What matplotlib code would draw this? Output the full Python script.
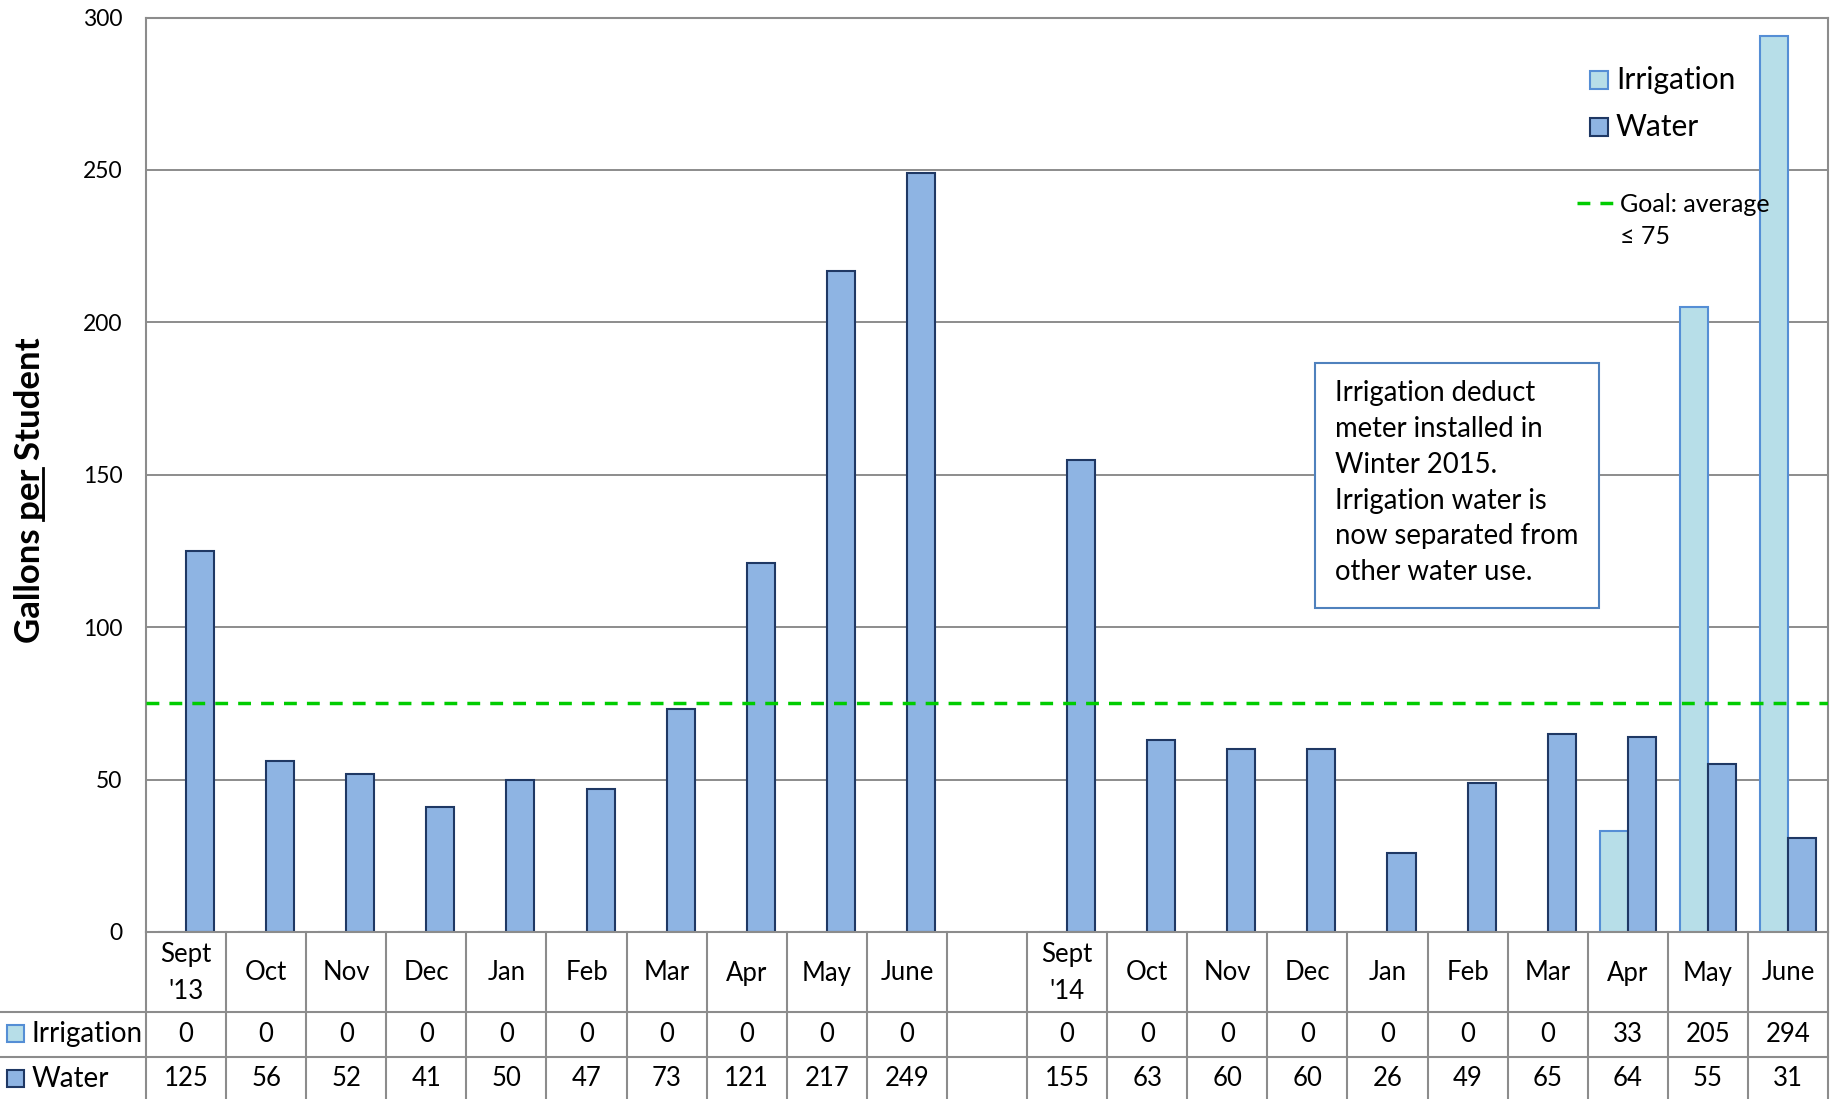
import matplotlib
matplotlib.use("Agg")
import matplotlib.pyplot as plt
import numpy as np
from matplotlib.patches import Rectangle
from matplotlib.lines import Line2D
from matplotlib.transforms import blended_transform_factory

plt.rcParams['font.family'] = ['Lato', 'DejaVu Sans']

# months, the empty one is the gap between the two school years
months = ["Sept\n'13", "Oct", "Nov", "Dec", "Jan", "Feb", "Mar", "Apr", "May", "June", "",
          "Sept\n'14", "Oct", "Nov", "Dec", "Jan", "Feb", "Mar", "Apr", "May", "June"]
irrigation = [0, 0, 0, 0, 0, 0, 0, 0, 0, 0, np.nan,
              0, 0, 0, 0, 0, 0, 0, 33, 205, 294]
water = [125, 56, 52, 41, 50, 47, 73, 121, 217, 249, np.nan,
         155, 63, 60, 60, 26, 49, 65, 64, 55, 31]
goal = 75
yticks = [0, 50, 100, 150, 200, 250, 300]
note = ("Irrigation deduct\nmeter installed in\nWinter 2015.\n"
        "Irrigation water is\nnow separated from\nother water use.")

W, H = 1837, 1099
def fx(x):
    return x / W
def fy(y):
    return 1 - y / H

IRR_FACE, IRR_EDGE = "#B7DEE8", "#558ED5"
WAT_FACE, WAT_EDGE = "#8EB4E3", "#1F3864"
GRID = "#8C8C8C"

fig = plt.figure(figsize=(W / 100, H / 100), dpi=100)
ax = fig.add_axes([fx(146), fy(932), fx(1828) - fx(146), fy(17.6) - fy(932)])

x = np.arange(len(months))
bw = 0.35
ax.bar(x - bw / 2, irrigation, bw, color=IRR_FACE, edgecolor=IRR_EDGE, lw=1.5, zorder=2)
ax.bar(x + bw / 2, water, bw, color=WAT_FACE, edgecolor=WAT_EDGE, lw=1.5, zorder=2)
ax.axhline(goal, color="#00CC00", lw=2.5, ls=(0, (3.7, 2.9)), zorder=5)

ax.set_xlim(-0.5, len(months) - 0.5)
ax.set_ylim(0, 300)
ax.set_yticks(yticks)
ax.set_xticks([])
ax.yaxis.grid(True, color=GRID, lw=1.4)
ax.set_axisbelow(True)
ax.tick_params(axis="y", length=0, pad=17, labelsize=16.5)
for s in ax.spines.values():
    s.set_color(GRID)
    s.set_linewidth(1.5)

# data table under the chart
trans = blended_transform_factory(ax.transData, fig.transFigure)
for i in range(len(months) + 1):
    fig.add_artist(Line2D([i - 0.5, i - 0.5], [fy(932), 0], transform=trans, color=GRID, lw=1.5))
for yy in [1012, 1057]:
    fig.add_artist(Line2D([0, fx(1828)], [fy(yy), fy(yy)], transform=fig.transFigure, color=GRID, lw=1.5))

for i, m in enumerate(months):
    fig.text(i, fy(973), m, transform=trans, ha="center", va="center", fontsize=18.5, linespacing=1.6)
    if not np.isnan(water[i]):
        fig.text(i, fy(1034), "%d" % irrigation[i], transform=trans, ha="center", va="center", fontsize=18.5)
        fig.text(i, fy(1079), "%d" % water[i], transform=trans, ha="center", va="center", fontsize=18.5)

for yc, name, fc, ec in [(1034, "Irrigation", IRR_FACE, IRR_EDGE), (1079, "Water", WAT_FACE, WAT_EDGE)]:
    fig.add_artist(Rectangle((fx(7), fy(yc + 8)), fx(17), fy(yc - 9) - fy(yc + 8),
                             transform=fig.transFigure, facecolor=fc, edgecolor=ec, lw=1.5))
    fig.text(fx(32), fy(yc), name, ha="left", va="center", fontsize=20)

# legend drawn by hand
for yc, name, fc, ec in [(80, "Irrigation", IRR_FACE, IRR_EDGE), (127, "Water", WAT_FACE, WAT_EDGE)]:
    fig.add_artist(Rectangle((fx(1590), fy(yc + 9)), fx(18), fy(yc - 9) - fy(yc + 9),
                             transform=fig.transFigure, facecolor=fc, edgecolor=ec, lw=1.5, zorder=6))
    fig.text(fx(1616), fy(yc), name, ha="left", va="center", fontsize=21.5, zorder=6)
fig.add_artist(Line2D([fx(1577), fx(1613)], [fy(203), fy(203)], transform=fig.transFigure,
                      color="#00CC00", lw=2.5, ls=(0, (3.7, 2.9))))
fig.text(fx(1620), fy(204), "Goal: average", ha="left", va="center", fontsize=18, zorder=6)
fig.text(fx(1620), fy(237), "\u2264 75", ha="left", va="center", fontsize=18, zorder=6)

# note box
ax.add_patch(Rectangle((fx(1315), fy(608)), fx(1599) - fx(1315), fy(363) - fy(608),
                       transform=fig.transFigure, facecolor="white", edgecolor="#4F81BD", lw=1.5, zorder=6))
fig.text(fx(1335), fy(380), note, ha="left", va="top", fontsize=19.8, linespacing=1.47, zorder=7)

# y label with "per" underlined
FS_Y = 25
lab = "Gallons per Student"
ylab = fig.text(fx(30), fy(490), lab, rotation=90, ha="center", va="center", fontsize=FS_Y, fontweight="bold")
fig.canvas.draw()
r = fig.canvas.get_renderer()
def textw(s):
    t = fig.text(0, 0, s, fontsize=FS_Y, fontweight="bold")
    w = t.get_window_extent(r).width
    t.remove()
    return w
bb = ylab.get_window_extent(r)
w_start = textw("Gallons per") - textw("per")
w_end = textw("Gallons per")
_, _, descent = r.get_text_width_height_descent(lab, ylab.get_fontproperties(), ismath=False)
ux = bb.x1 - descent + 3
fig.add_artist(Line2D([ux / W, ux / W], [(bb.y0 + w_start) / H, (bb.y0 + w_end) / H],
                      transform=fig.transFigure, color="black", lw=2))

fig.savefig("out.png", dpi=100)
